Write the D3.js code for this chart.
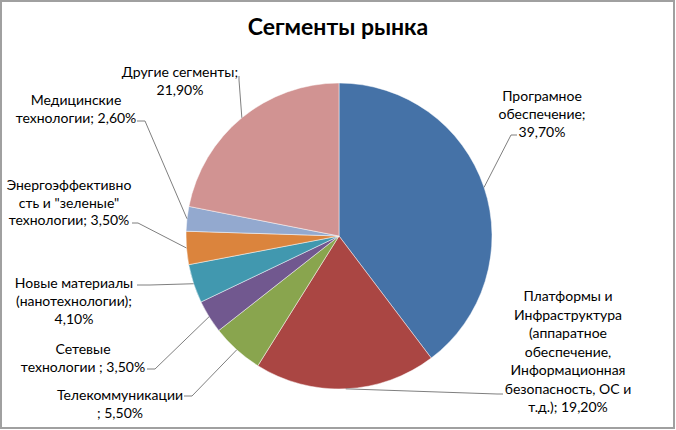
<!DOCTYPE html>
<html>
<head>
<meta charset="utf-8">
<script src="https://cdn.jsdelivr.net/npm/d3@7/dist/d3.min.js"></script>
<style>
  html, body { margin: 0; padding: 0; background: #fff; }
  svg { display: block; }
</style>
</head>
<body>
<svg id="chart" width="676" height="430"></svg>
<script>
// ---- data ----
const title = "Сегменты рынка";
const categories = [
  "Програмное\nобеспечение",
  "Платформы и\nИнфраструктура\n(аппаратное\nобеспечение,\nИнформационная\nбезопасность, ОС и\nт.д.)",
  "Телекоммуникации\n",
  "Сетевые\nтехнологии ",
  "Новые материалы\n(нанотехнологии)",
  "Энергоэффективно\nсть и \"зеленые\"\nтехнологии",
  "Медицинские\nтехнологии",
  "Другие сегменты"
];
const values = [39.7, 19.2, 5.5, 3.5, 4.1, 3.5, 2.6, 21.9];
const separators = [";\n", "; ", "; ", "; ", ";\n", "; ", "; ", ";\n"];
const colors = ["#4572A7", "#AA4643", "#89A54E", "#71588F", "#4198AF", "#DB843D", "#93A9CF", "#D19392"];

// ---- layout (positions kept separate from data) ----
const W = 676, H = 430;
const cx = 339, cy = 236, R = 153;
const lineH = 18;
// label: text centre x, first baseline y, elbow point, stub end point
const labelLayout = [
  { x: 542, y: 101, elbow: [511, 135], end: [517, 135] },
  { x: 568, y: 301, lh: 18.5, elbow: [497, 394], end: [503, 394] },
  { x: 120, y: 400, elbow: [192, 396], end: [184, 396] },
  { x: 83,  y: 354, elbow: [155, 369], end: [147, 369] },
  { x: 74,  y: 288, elbow: [150, 285], end: [137, 285] },
  { x: 69,  y: 190, lh: 17.5, elbow: [138, 223], end: [132, 223] },
  { x: 76,  y: 105, elbow: [145, 121], end: [137, 121] },
  { x: 180, y: 77,  elbow: [239, 80],  end: [239, 76] }
];

const fmt = v => d3.format(".2f")(v).replace(".", ",") + "%";

const svg = d3.select("#chart");

svg.append("rect")
  .attr("x", 1).attr("y", 1)
  .attr("width", W - 3).attr("height", H - 3)
  .attr("fill", "#fff")
  .attr("stroke", "#a0a0a0")
  .attr("stroke-width", 2);

svg.append("text")
  .attr("x", 338).attr("y", 35)
  .attr("text-anchor", "middle")
  .attr("font-family", "Lato, 'Open Sans', sans-serif")
  .attr("font-weight", "bold")
  .attr("font-size", 23)
  .attr("fill", "#000")
  .text(title);

const pie = d3.pie().sort(null).value(d => d.value);
const data = categories.map((c, i) => ({ name: c, value: values[i], i }));
const arcs = pie(data);

const arc = d3.arc().innerRadius(0).outerRadius(R);
const edge = d3.arc().innerRadius(R).outerRadius(R);

const g = svg.append("g").attr("transform", `translate(${cx},${cy})`);
g.selectAll("path.slice")
  .data(arcs)
  .enter().append("path")
  .attr("class", "slice")
  .attr("d", arc)
  .attr("fill", d => colors[d.index])
  .attr("stroke", "#fff")
  .attr("stroke-opacity", 0.6)
  .attr("stroke-width", 0.8);

// leader lines
const line = d3.line();
svg.selectAll("path.leader")
  .data(arcs)
  .enter().append("path")
  .attr("class", "leader")
  .attr("d", d => {
    const c = edge.centroid(d);
    const L = labelLayout[d.index];
    return line([[cx + c[0], cy + c[1]], L.elbow, L.end]);
  })
  .attr("fill", "none")
  .attr("stroke", "#7f7f7f")
  .attr("stroke-width", 1);

// labels
const labels = svg.selectAll("text.lbl")
  .data(arcs)
  .enter().append("text")
  .attr("class", "lbl")
  .attr("text-anchor", "middle")
  .attr("font-family", "Lato, 'Open Sans', sans-serif")
  .attr("font-size", 14)
  .attr("fill", "#000");

labels.each(function(d) {
  const L = labelLayout[d.index];
  const full = d.data.name + separators[d.index] + fmt(d.data.value);
  const lines = full.split("\n");
  const lh = L.lh || lineH;
  d3.select(this).selectAll("tspan")
    .data(lines)
    .enter().append("tspan")
    .attr("x", L.x)
    .attr("y", (t, k) => L.y + k * lh)
    .attr("xml:space", "preserve")
    .text(t => t);
});
</script>
</body>
</html>
